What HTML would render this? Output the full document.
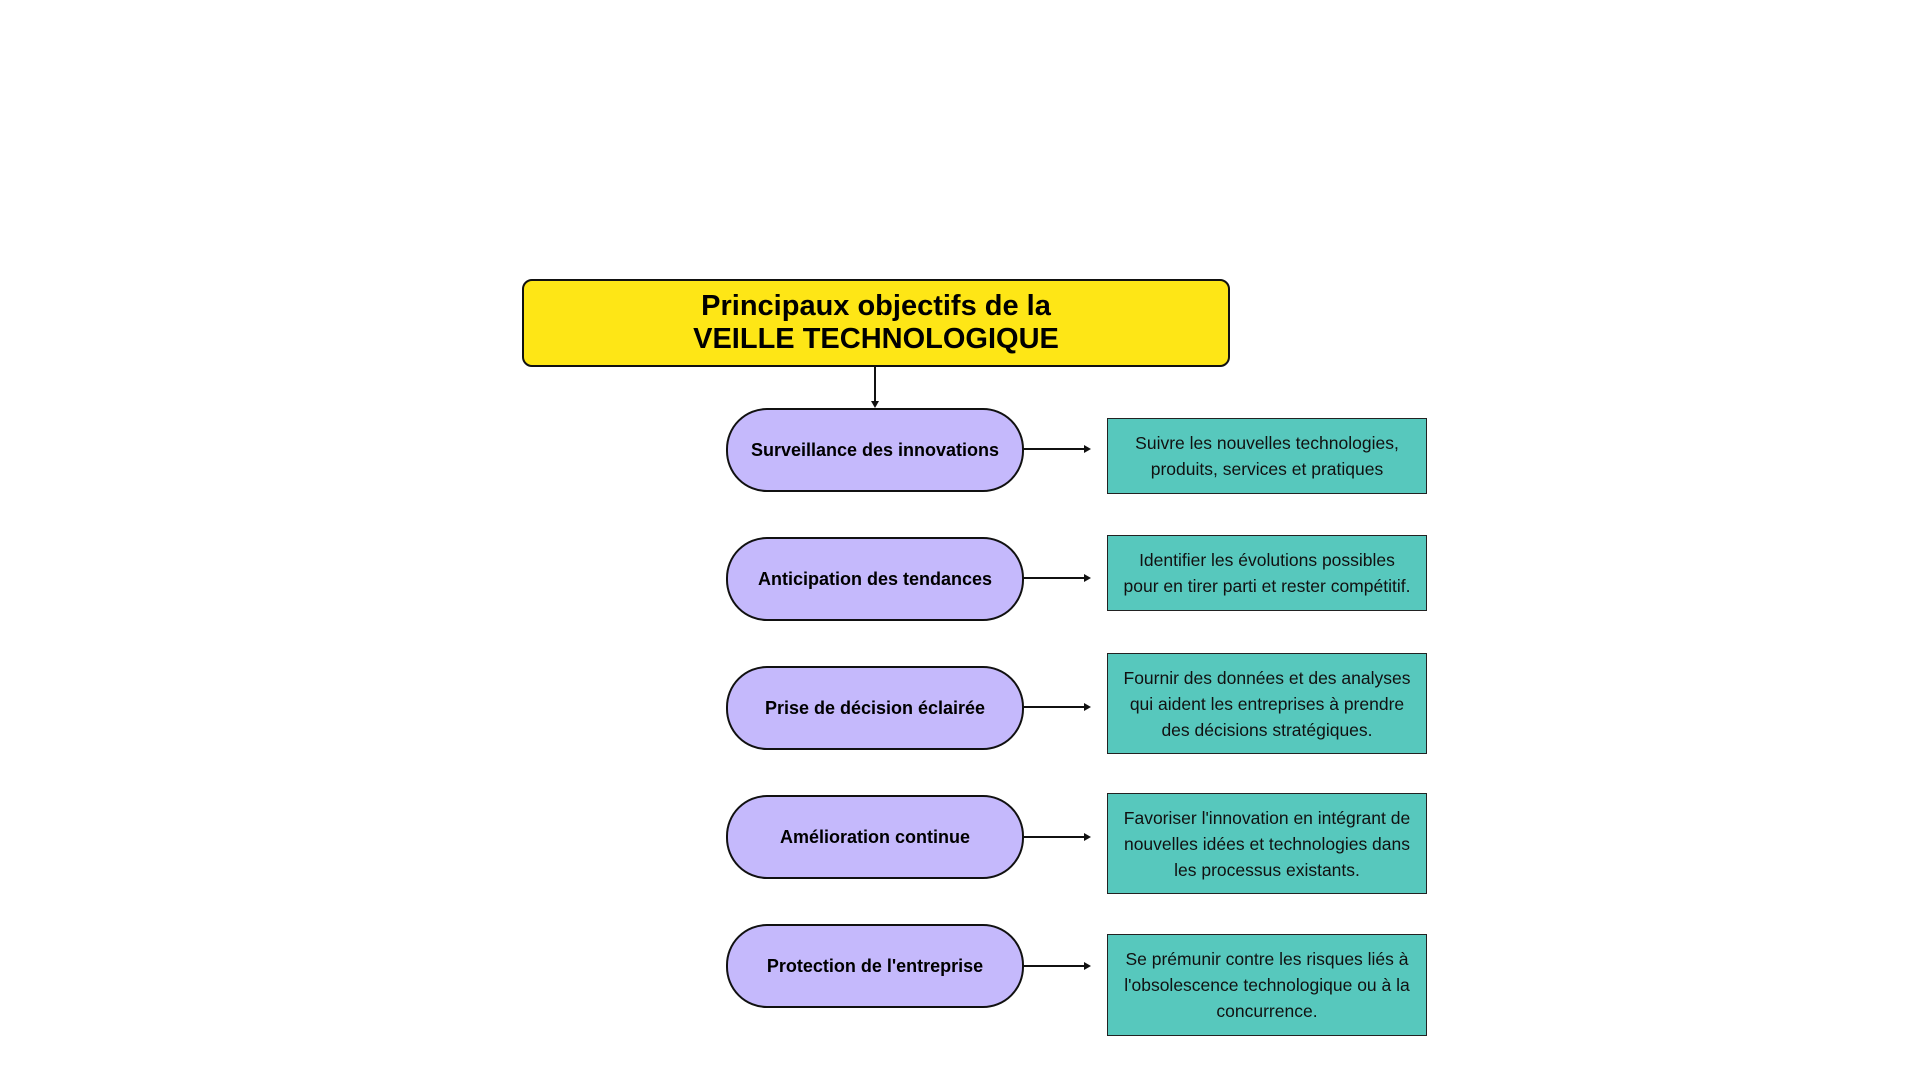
<!DOCTYPE html>
<html><head><meta charset="utf-8"><style>
body{margin:0;width:1920px;height:1080px;background:#fff;position:relative;overflow:hidden;font-family:"Liberation Sans",sans-serif;}
.t{position:absolute;left:522px;top:279px;width:704px;height:84px;background:#fee616;border:2px solid #111;border-radius:10px;display:flex;align-items:center;justify-content:center;text-align:center;font-weight:bold;font-size:29px;line-height:33px;color:#000;}
.p{position:absolute;left:726px;width:294px;height:80px;background:#c5b9fc;border:2px solid #111;border-radius:41px;display:flex;align-items:center;justify-content:center;font-weight:bold;font-size:18px;color:#000;}
.b{position:absolute;left:1107px;width:318px;background:#57c8bd;border:1.5px solid #222;display:flex;align-items:center;justify-content:center;text-align:center;font-size:17.5px;line-height:26px;color:#111;}
svg{position:absolute;left:0;top:0}
</style></head><body>
<div class="t">Principaux objectifs de la<br>VEILLE TECHNOLOGIQUE</div>
<div class="p" style="top:408px">Surveillance des innovations</div>
<div class="p" style="top:537px">Anticipation des tendances</div>
<div class="p" style="top:666px">Prise de décision éclairée</div>
<div class="p" style="top:795px">Amélioration continue</div>
<div class="p" style="top:924px">Protection de l'entreprise</div>
<div class="b" style="top:418px;height:74px">Suivre les nouvelles technologies,<br>produits, services et pratiques</div>
<div class="b" style="top:535px;height:74px">Identifier les évolutions possibles<br>pour en tirer parti et rester compétitif.</div>
<div class="b" style="top:653px;height:99px">Fournir des données et des analyses<br>qui aident les entreprises à prendre<br>des décisions stratégiques.</div>
<div class="b" style="top:793px;height:99px">Favoriser l'innovation en intégrant de<br>nouvelles idées et technologies dans<br>les processus existants.</div>
<div class="b" style="top:934px;height:100px">Se prémunir contre les risques liés à<br>l'obsolescence technologique ou à la<br>concurrence.</div>
<svg width="1920" height="1080">
<g stroke="#111" stroke-width="2" fill="#111">
<line x1="875" y1="365" x2="875" y2="402"/><polygon points="871,401 879,401 875,408" stroke="none"/>
<line x1="1022" y1="449" x2="1085" y2="449"/><polygon points="1084,445 1084,453 1091,449" stroke="none"/>
<line x1="1022" y1="578" x2="1085" y2="578"/><polygon points="1084,574 1084,582 1091,578" stroke="none"/>
<line x1="1022" y1="707" x2="1085" y2="707"/><polygon points="1084,703 1084,711 1091,707" stroke="none"/>
<line x1="1022" y1="837" x2="1085" y2="837"/><polygon points="1084,833 1084,841 1091,837" stroke="none"/>
<line x1="1022" y1="966" x2="1085" y2="966"/><polygon points="1084,962 1084,970 1091,966" stroke="none"/>
</g></svg>
</body></html>
